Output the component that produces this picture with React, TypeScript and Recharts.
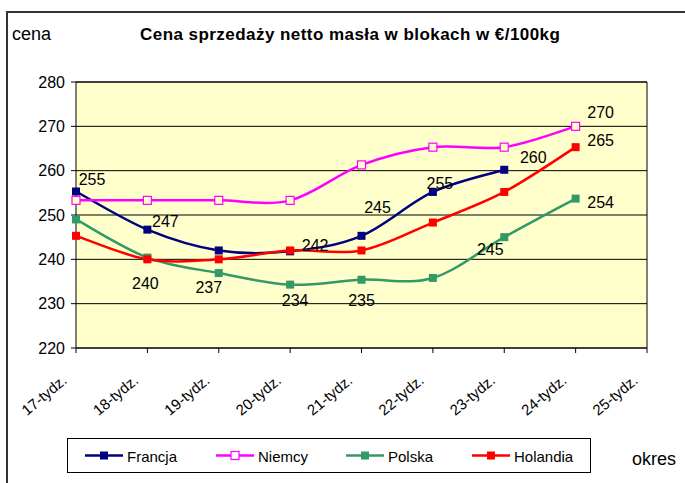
import React from 'react';
import { LineChart, Line, XAxis, YAxis, CartesianGrid, ReferenceLine } from 'recharts';

const weeks = ['17-tydz.', '18-tydz.', '19-tydz.', '20-tydz.', '21-tydz.', '22-tydz.', '23-tydz.', '24-tydz.', '25-tydz.'];
const francja = [255.3, 246.7, 242.0, 241.8, 245.3, 255.2, 260.2, null, null];
const niemcy = [253.3, 253.3, 253.3, 253.3, 261.3, 265.3, 265.3, 270.0, null];
const polska = [249.0, 240.4, 236.9, 234.3, 235.4, 235.8, 245.0, 253.7, null];
const holandia = [245.3, 240.0, 240.0, 242.0, 242.0, 248.3, 255.2, 265.3, null];
const yTicks = [220, 230, 240, 250, 260, 270, 280];

const data = weeks.map((week, i) => ({
  week,
  francja: francja[i],
  niemcy: niemcy[i],
  polska: polska[i],
  holandia: holandia[i],
}));

const FONT = 'Arial, "Liberation Sans", sans-serif';
const BG = '#FFFFCC';

// which points carry a data label, and where the label sits relative to the marker
const labelOffsets: Record<string, Record<number, [number, number]>> = {
  francja: { 0: [16, -12], 1: [18, -8], 3: [25, -6], 4: [16, -28], 5: [7, -8], 6: [29, -12] },
  niemcy: { 7: [25, -14] },
  polska: { 1: [-2, 26], 2: [-10, 14], 3: [5, 16], 4: [0, 21], 6: [-14, 12], 7: [25, 4] },
  holandia: { 7: [25, -7] },
};

const series = [
  { key: 'francja', name: 'Francja', color: '#000080', hollow: false },
  { key: 'niemcy', name: 'Niemcy', color: '#FF00FF', hollow: true },
  { key: 'polska', name: 'Polska', color: '#339966', hollow: false },
  { key: 'holandia', name: 'Holandia', color: '#FF0000', hollow: false },
];

const makeDot = (key: string, color: string, hollow: boolean) => (props: any) => {
  const { cx, cy, index, value } = props;
  if (cx == null || cy == null || value == null) return <g key={`${key}-${index}`} />;
  const off = labelOffsets[key][index];
  return (
    <g key={`${key}-${index}`}>
      <rect
        x={cx - 4}
        y={cy - 4}
        width={8}
        height={8}
        fill={hollow ? BG : color}
        stroke={color}
        strokeWidth={hollow ? 1.2 : 0}
      />
      {off && (
        <text
          x={cx + off[0]}
          y={cy + off[1]}
          textAnchor="middle"
          dominantBaseline="central"
          fontFamily={FONT}
          fontSize={16}
          fill="#000"
        >
          {Math.round(Array.isArray(value) ? value[1] : value)}
        </text>
      )}
    </g>
  );
};

const WeekTick = ({ x, y, payload }: any) => (
  <text
    x={x - 8}
    y={y + 27}
    transform={`rotate(-40, ${x - 8}, ${y + 27})`}
    textAnchor="end"
    fontFamily={FONT}
    fontSize={15}
    fill="#000"
  >
    {payload.value}
  </text>
);

const legendX = [18, 149, 279, 405];

const LegendBox = () => (
  <svg width={524} height={35} style={{ position: 'absolute', left: 67, top: 438 }}>
    <rect x={0.5} y={0.5} width={523} height={34} fill="#fff" stroke="#000" />
    {series.map((s, i) => (
      <g key={s.key}>
        <line x1={legendX[i]} x2={legendX[i] + 38} y1={17.5} y2={17.5} stroke={s.color} strokeWidth={2.5} />
        <rect
          x={legendX[i] + 15}
          y={13.5}
          width={8}
          height={8}
          fill={s.hollow ? '#fff' : s.color}
          stroke={s.color}
          strokeWidth={s.hollow ? 1.2 : 0}
        />
        <text x={legendX[i] + 42} y={18} dominantBaseline="central" fontFamily={FONT} fontSize={15} fill="#000">
          {s.name}
        </text>
      </g>
    ))}
  </svg>
);

// Excel-like smoothed line (Catmull-Rom through every point)
const smoothCurve = (context: any) => {
  let pts: [number, number][] = [];
  return {
    areaStart() {},
    areaEnd() {},
    lineStart() {
      pts = [];
    },
    point(x: number, y: number) {
      pts.push([+x, +y]);
    },
    lineEnd() {
      if (!pts.length) return;
      context.moveTo(pts[0][0], pts[0][1]);
      for (let i = 0; i < pts.length - 1; i++) {
        const p0 = pts[i - 1] || pts[i];
        const p1 = pts[i];
        const p2 = pts[i + 1];
        const p3 = pts[i + 2] || p2;
        context.bezierCurveTo(
          p1[0] + (p2[0] - p0[0]) / 6,
          p1[1] + (p2[1] - p0[1]) / 6,
          p2[0] - (p3[0] - p1[0]) / 6,
          p2[1] - (p3[1] - p1[1]) / 6,
          p2[0],
          p2[1]
        );
      }
    },
  };
};

const App = () => {
  return (
    <div style={{ position: 'absolute', left: 0, top: 0, width: 685, height: 483, background: '#fff', overflow: 'hidden' }}>
      <div style={{ position: 'absolute', left: 6, top: 11, width: 700, height: 500, borderLeft: '2px solid #333', borderTop: '2px solid #333' }} />
      <div style={{ position: 'absolute', left: 12, top: 24, fontFamily: FONT, fontSize: 18, color: '#000' }}>cena</div>
      <div style={{ position: 'absolute', left: 140, top: 25, fontFamily: FONT, fontSize: 17, fontWeight: 'bold', letterSpacing: 0.45, color: '#000', whiteSpace: 'nowrap' }}>
        Cena sprzedaży netto masła w blokach w €/100kg
      </div>
      <div style={{ position: 'absolute', left: 632, top: 449, fontFamily: FONT, fontSize: 18, color: '#000', whiteSpace: 'nowrap' }}>okres</div>
      <LineChart
        width={685}
        height={483}
        data={data}
        margin={{ top: 82, right: 38, bottom: 55, left: 16 }}
        style={{ position: 'absolute', left: 0, top: 0 }}
      >
        <CartesianGrid vertical={false} stroke="#000" fill={BG} fillOpacity={1} />
        <XAxis
          dataKey="week"
          interval={0}
          height={80}
          tick={<WeekTick />}
          tickSize={5}
          axisLine={{ stroke: '#000' }}
          tickLine={{ stroke: '#000' }}
        />
        <YAxis
          domain={[220, 280]}
          ticks={yTicks}
          width={60}
          tickSize={5}
          tickMargin={6}
          axisLine={{ stroke: '#000' }}
          tickLine={{ stroke: '#000' }}
          tick={{ fontFamily: FONT, fontSize: 16, fill: '#000' }}
        />
        <ReferenceLine y={280} stroke="#000" />
        <ReferenceLine x="25-tydz." stroke="#000" />
        {series.map((s) => (
          <Line
            key={s.key}
            dataKey={s.key}
            name={s.name}
            type={smoothCurve as any}
            stroke={s.color}
            strokeWidth={2.5}
            dot={makeDot(s.key, s.color, s.hollow)}
            activeDot={false}
            isAnimationActive={false}
          />
        ))}
      </LineChart>
      <LegendBox />
    </div>
  );
};

export default App;
